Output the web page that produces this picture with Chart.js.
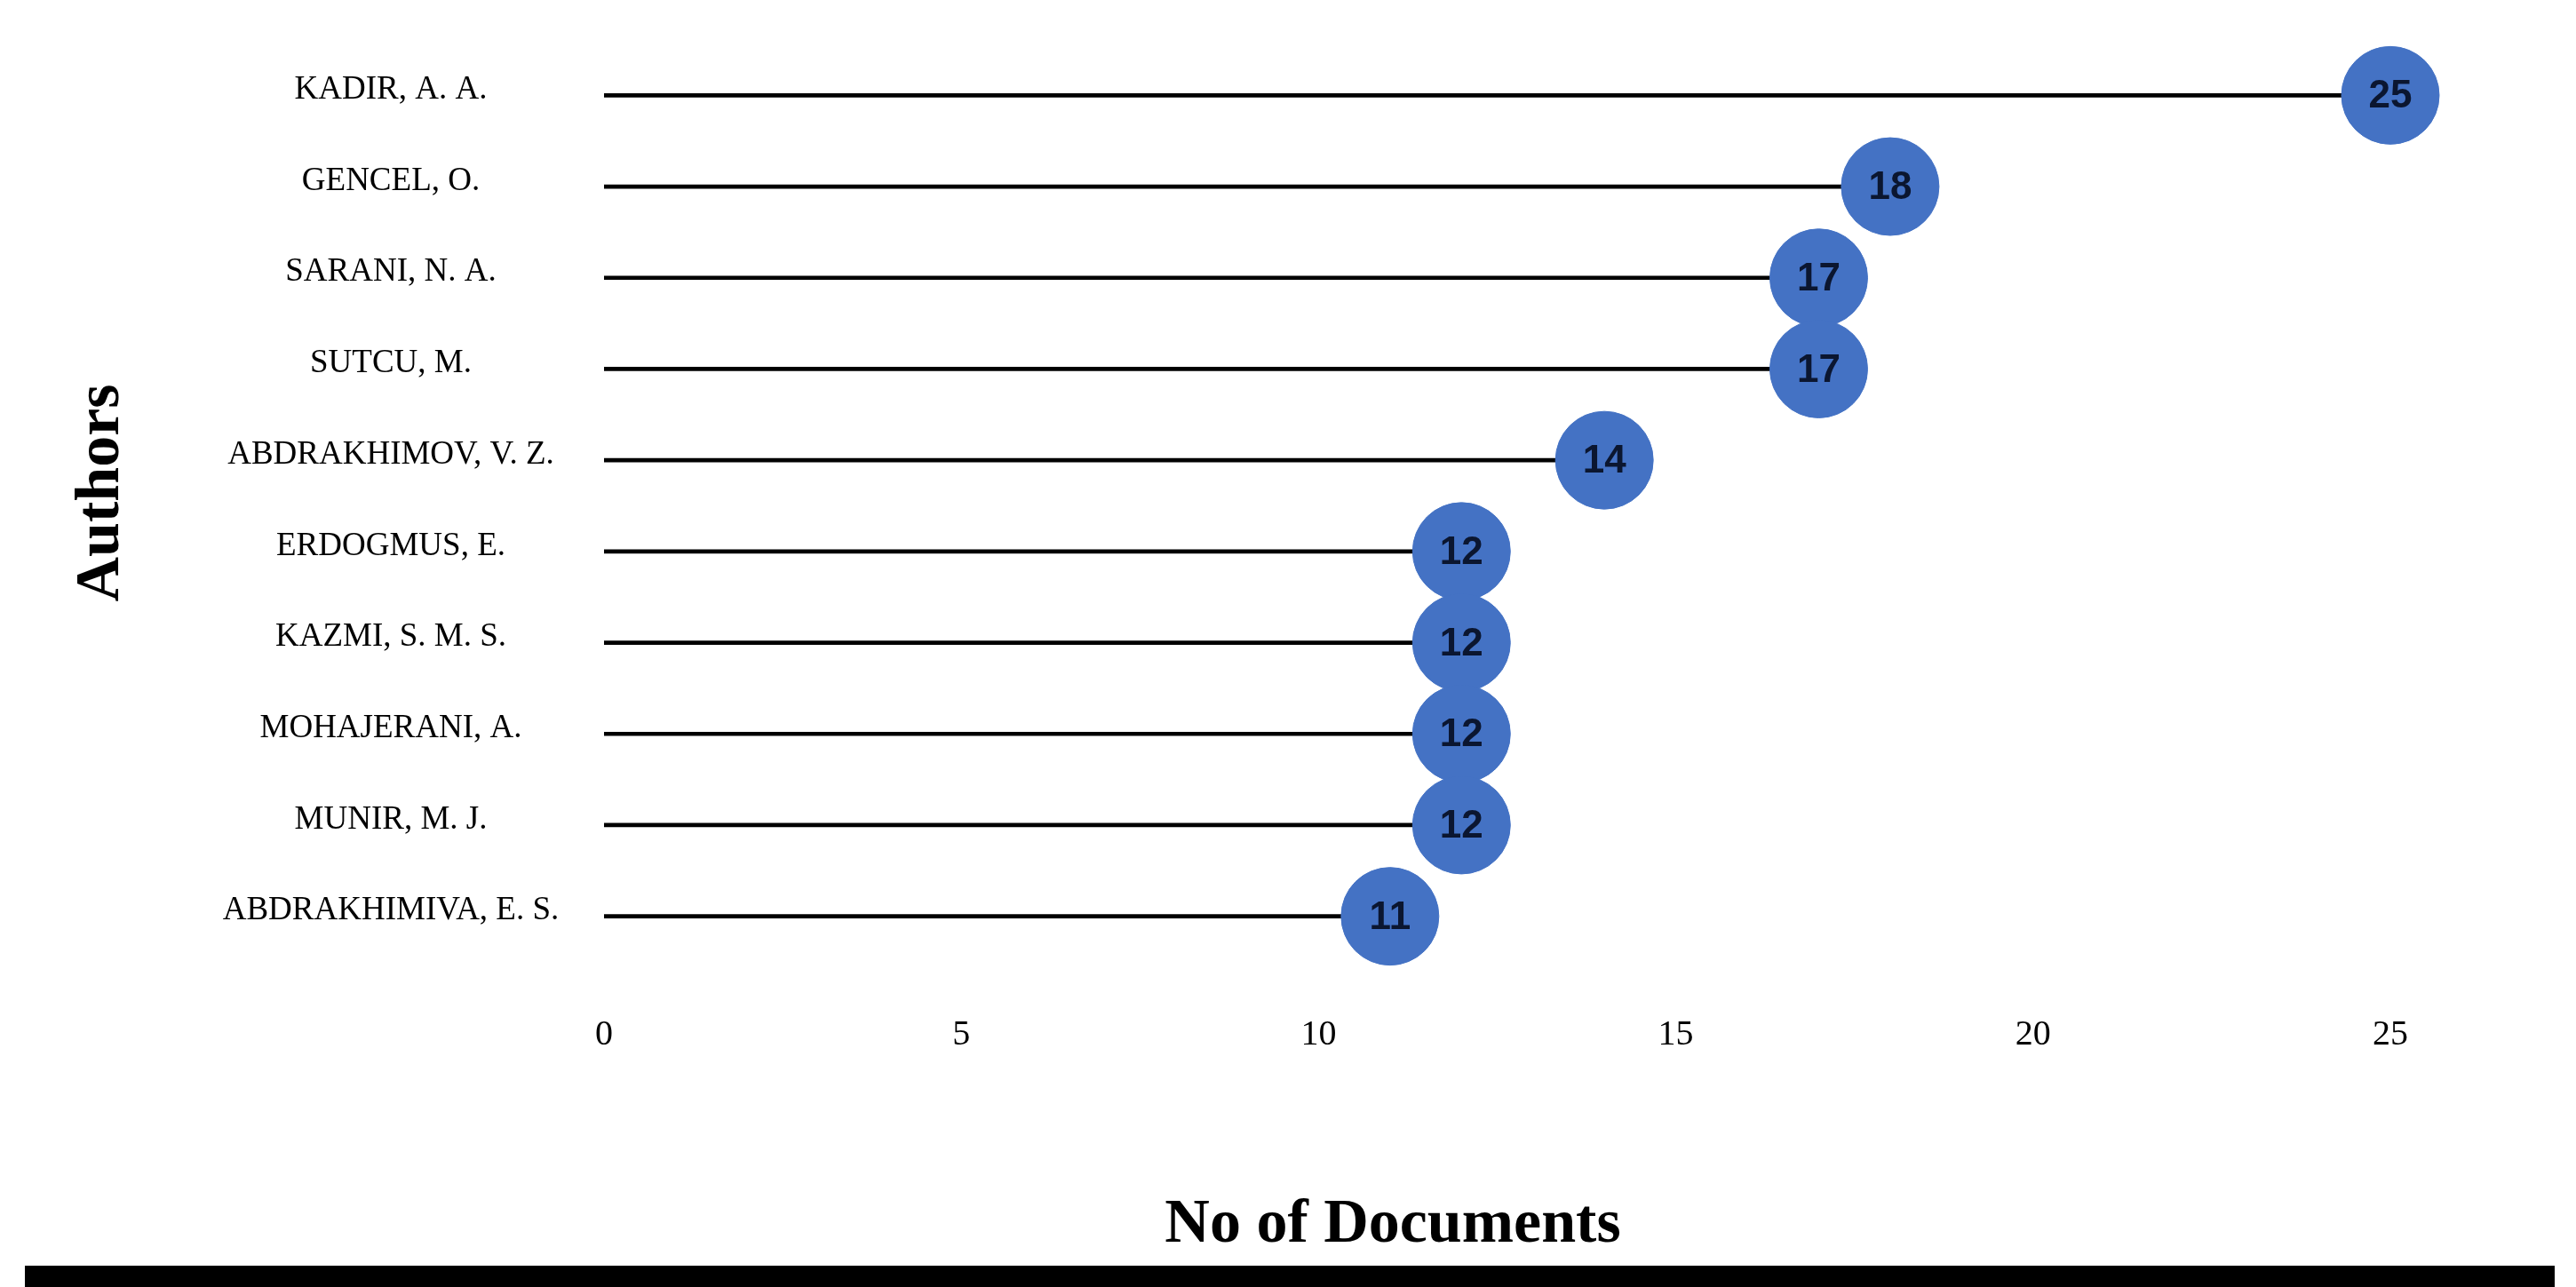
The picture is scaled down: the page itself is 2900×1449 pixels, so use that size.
<!DOCTYPE html>
<html>
<head>
<meta charset="utf-8">
<script src="https://cdn.jsdelivr.net/npm/chart.js@4/dist/chart.umd.min.js"></script>
<style>
  body { margin: 0; background: #fff; }
  canvas { display: block; }
</style>
</head>
<body>
<canvas id="chart" width="2900" height="1449"></canvas>
<script>
// Chart data
const authors = ['KADIR, A. A.', 'GENCEL, O.', 'SARANI, N. A.', 'SUTCU, M.', 'ABDRAKHIMOV, V. Z.',
    'ERDOGMUS, E.', 'KAZMI, S. M. S.', 'MOHAJERANI, A.', 'MUNIR, M. J.', 'ABDRAKHIMIVA, E. S.'];
const documents = [25, 18, 17, 17, 14, 12, 12, 12, 12, 11];
const xTicks = [0, 5, 10, 15, 20, 25];

const BLUE = '#4472C4';

// Draws author names, bubble numbers, axis titles and the bottom bar
const decorations = {
    id: 'decorations',
    afterDatasetsDraw(chart) {
        const ctx = chart.ctx;
        const yScale = chart.scales.y;
        ctx.save();

        ctx.fillStyle = '#000';
        ctx.font = '37px "Liberation Serif"';
        ctx.textAlign = 'center';
        ctx.textBaseline = 'middle';
        authors.forEach((name, i) => {
            ctx.fillText(name, 440, yScale.getPixelForValue(i) - 6);
        });

        const meta = chart.getDatasetMeta(1);
        ctx.font = 'bold 44px "Liberation Sans"';
        ctx.fillStyle = '#0b1630';
        meta.data.forEach((pt, i) => {
            ctx.fillText(String(documents[i]), pt.x, pt.y + 2);
        });

        ctx.font = 'bold 70px "Liberation Serif"';
        ctx.fillStyle = '#000';
        ctx.fillText('No of Documents', 1568, 1380);

        ctx.save();
        ctx.translate(115, 555);
        ctx.rotate(-Math.PI / 2);
        ctx.fillText('Authors', 0, 0);
        ctx.restore();

        ctx.fillRect(28, 1425, 2848, 46);
        ctx.restore();
    }
};

new Chart(document.getElementById('chart').getContext('2d'), {
    data: {
        labels: authors,
        datasets: [{
            type: 'bar',
            data: documents,
            backgroundColor: '#000',
            barThickness: 4,
            order: 2
        }, {
            type: 'line',
            data: documents,
            showLine: false,
            clip: false,
            order: 1,
            pointRadius: 55,
            pointHoverRadius: 55,
            pointBackgroundColor: BLUE,
            pointBorderColor: BLUE
        }]
    },
    options: {
        indexAxis: 'y',
        responsive: false,
        animation: false,
        layout: { padding: { left: 680, right: 209, top: 6, bottom: 0 } },
        scales: {
            x: {
                min: 0, max: 25,
                afterBuildTicks: s => { s.ticks = xTicks.map(v => ({ value: v })); },
                afterFit: s => { s.height = 366; },
                grid: { display: false },
                border: { display: false },
                ticks: { padding: 50, color: '#000', font: { family: 'Liberation Serif', size: 40 } }
            },
            y: {
                afterFit: s => { s.width = 0; },
                grid: { display: false },
                border: { display: false },
                ticks: { display: false }
            }
        },
        plugins: { legend: { display: false }, tooltip: { enabled: false } }
    },
    plugins: [decorations]
});
</script>
</body>
</html>
